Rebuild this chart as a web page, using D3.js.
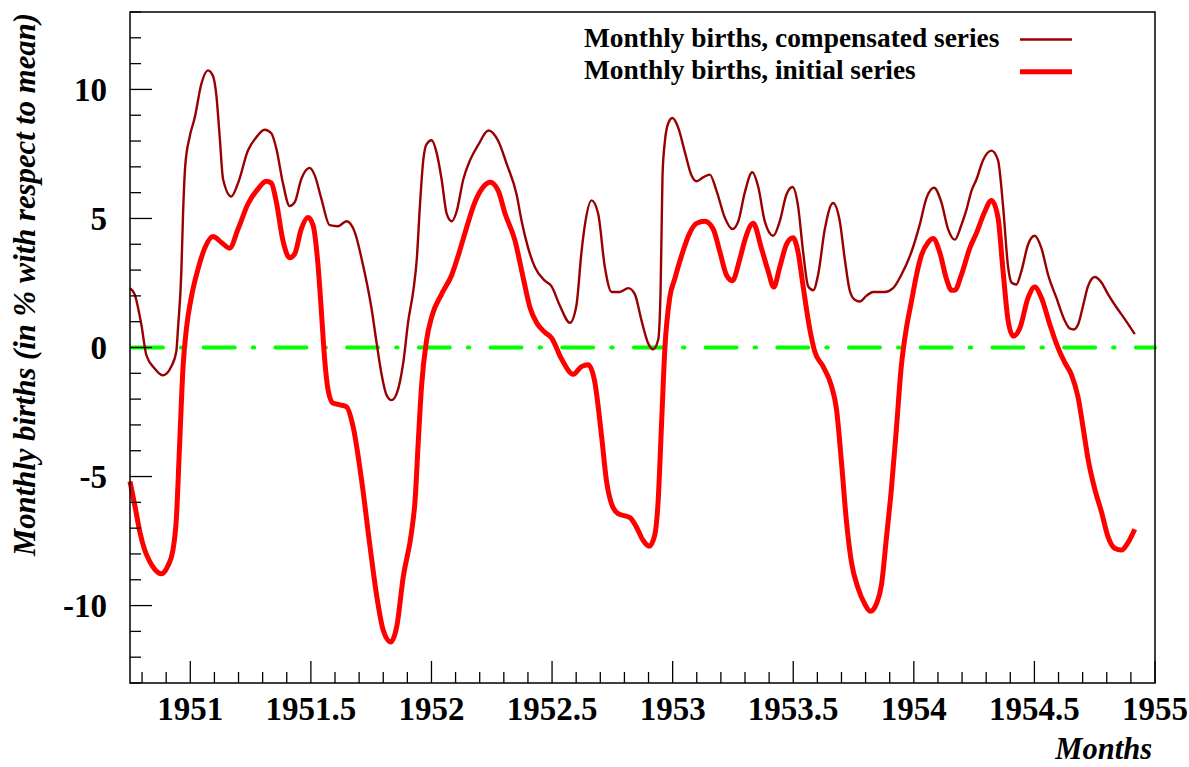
<!DOCTYPE html>
<html lang="en">
<head>
<meta charset="UTF-8">
<title>Monthly births</title>
<script src="https://d3js.org/d3.v7.min.js"></script>
<style>
  body { margin: 0; background: #fff; }
  text { font-family: "Liberation Serif", "Times New Roman", serif; font-weight: bold; }
</style>
</head>
<body>
<script>
// compensated series (year, % w.r.t. mean)
const compYears = [1950.75, 1950.769, 1950.797, 1950.818, 1950.852, 1950.887, 1950.921, 1950.942, 1950.949, 1950.963, 1950.970, 1950.979, 1950.997, 1951.018, 1951.046, 1951.073, 1951.094, 1951.108, 1951.122, 1951.136, 1951.170, 1951.198, 1951.239, 1951.274, 1951.308, 1951.336, 1951.357, 1951.384, 1951.412, 1951.433, 1951.460, 1951.495, 1951.516, 1951.543, 1951.578, 1951.612, 1951.648, 1951.683, 1951.711, 1951.752, 1951.773, 1951.793, 1951.814, 1951.835, 1951.856, 1951.883, 1951.904, 1951.925, 1951.939, 1951.952, 1951.966, 1951.980, 1952.001, 1952.021, 1952.042, 1952.063, 1952.084, 1952.104, 1952.132, 1952.160, 1952.194, 1952.236, 1952.277, 1952.312, 1952.353, 1952.374, 1952.401, 1952.429, 1952.470, 1952.498, 1952.532, 1952.574, 1952.601, 1952.622, 1952.636, 1952.664, 1952.691, 1952.719, 1952.747, 1952.781, 1952.816, 1952.843, 1952.871, 1952.899, 1952.919, 1952.940, 1952.950, 1952.954, 1952.958, 1952.968, 1952.981, 1952.999, 1953.023, 1953.051, 1953.078, 1953.099, 1953.126, 1953.154, 1953.182, 1953.216, 1953.248, 1953.272, 1953.299, 1953.330, 1953.355, 1953.382, 1953.417, 1953.444, 1953.472, 1953.497, 1953.520, 1953.541, 1953.562, 1953.583, 1953.603, 1953.631, 1953.665, 1953.693, 1953.714, 1953.734, 1953.755, 1953.776, 1953.803, 1953.831, 1953.879, 1953.914, 1953.948, 1953.990, 1954.024, 1954.052, 1954.084, 1954.114, 1954.142, 1954.170, 1954.197, 1954.218, 1954.239, 1954.260, 1954.287, 1954.322, 1954.349, 1954.370, 1954.391, 1954.405, 1954.425, 1954.446, 1954.474, 1954.501, 1954.529, 1954.557, 1954.591, 1954.626, 1954.646, 1954.663, 1954.681, 1954.702, 1954.722, 1954.750, 1954.778, 1954.805, 1954.840, 1954.874, 1954.916];
const compValues = [2.30, 2.07, 0.89, -0.30, -0.81, -1.08, -0.74, -0.15, 0.74, 2.96, 5.19, 7.04, 8.15, 8.89, 10.22, 10.74, 10.52, 9.78, 8.15, 6.52, 5.85, 6.37, 7.63, 8.15, 8.44, 8.30, 7.70, 6.37, 5.48, 5.63, 6.52, 6.96, 6.67, 5.78, 4.74, 4.70, 4.89, 4.44, 3.41, 1.48, 0.15, -1.04, -1.85, -2.04, -1.78, -0.59, 1.04, 2.22, 3.41, 5.48, 7.26, 7.88, 8.03, 7.56, 6.52, 5.19, 4.89, 5.26, 6.52, 7.26, 7.85, 8.41, 8.00, 7.11, 5.93, 4.89, 3.85, 3.11, 2.59, 2.37, 1.63, 0.96, 1.63, 3.70, 4.74, 5.70, 5.19, 3.11, 2.15, 2.15, 2.30, 2.07, 1.04, 0.15, -0.07, 0.30, 2.22, 4.44, 6.67, 8.00, 8.67, 8.89, 8.52, 7.56, 6.67, 6.44, 6.59, 6.70, 6.07, 5.04, 4.59, 4.89, 6.00, 6.79, 6.22, 4.89, 4.33, 4.89, 5.93, 6.22, 5.48, 3.70, 2.37, 2.22, 2.81, 4.59, 5.60, 4.89, 3.41, 2.22, 1.85, 1.78, 2.00, 2.15, 2.15, 2.30, 2.81, 3.70, 4.74, 5.78, 6.19, 5.63, 4.59, 4.18, 4.74, 5.33, 6.07, 6.52, 7.26, 7.63, 7.26, 5.48, 3.11, 2.52, 2.44, 2.96, 4.00, 4.33, 3.85, 2.81, 1.93, 1.04, 0.74, 0.70, 0.89, 1.63, 2.37, 2.73, 2.52, 2.07, 1.56, 1.11, 0.52];

// initial series
const initYears = [1950.75, 1950.769, 1950.790, 1950.811, 1950.832, 1950.852, 1950.880, 1950.908, 1950.928, 1950.942, 1950.956, 1950.970, 1950.984, 1951.004, 1951.032, 1951.060, 1951.094, 1951.129, 1951.163, 1951.198, 1951.239, 1951.281, 1951.315, 1951.336, 1951.357, 1951.384, 1951.412, 1951.433, 1951.460, 1951.488, 1951.509, 1951.529, 1951.543, 1951.557, 1951.571, 1951.591, 1951.620, 1951.648, 1951.676, 1951.711, 1951.745, 1951.773, 1951.800, 1951.831, 1951.856, 1951.883, 1951.918, 1951.932, 1951.945, 1951.959, 1951.980, 1952.001, 1952.042, 1952.084, 1952.111, 1952.139, 1952.180, 1952.215, 1952.243, 1952.277, 1952.305, 1952.346, 1952.381, 1952.408, 1952.436, 1952.470, 1952.498, 1952.539, 1952.588, 1952.622, 1952.650, 1952.677, 1952.705, 1952.726, 1952.747, 1952.774, 1952.823, 1952.850, 1952.878, 1952.903, 1952.926, 1952.940, 1952.954, 1952.968, 1952.988, 1953.009, 1953.037, 1953.071, 1953.099, 1953.133, 1953.168, 1953.196, 1953.223, 1953.248, 1953.278, 1953.299, 1953.334, 1953.368, 1953.396, 1953.419, 1953.444, 1953.472, 1953.499, 1953.520, 1953.541, 1953.568, 1953.589, 1953.624, 1953.658, 1953.679, 1953.700, 1953.720, 1953.741, 1953.769, 1953.796, 1953.820, 1953.845, 1953.866, 1953.886, 1953.907, 1953.928, 1953.948, 1953.969, 1953.990, 1954.011, 1954.031, 1954.059, 1954.080, 1954.107, 1954.135, 1954.156, 1954.170, 1954.197, 1954.232, 1954.260, 1954.294, 1954.322, 1954.349, 1954.370, 1954.391, 1954.412, 1954.439, 1954.474, 1954.501, 1954.529, 1954.564, 1954.591, 1954.626, 1954.653, 1954.681, 1954.702, 1954.722, 1954.750, 1954.778, 1954.805, 1954.833, 1954.861, 1954.888, 1954.916];
const initValues = [-5.19, -6.07, -7.11, -7.85, -8.30, -8.59, -8.77, -8.44, -7.85, -6.67, -3.70, -0.74, 0.74, 1.93, 3.04, 3.85, 4.30, 4.07, 3.85, 4.59, 5.56, 6.15, 6.44, 6.37, 5.63, 4.15, 3.48, 3.63, 4.59, 5.04, 4.74, 3.26, 1.48, -0.44, -1.63, -2.15, -2.22, -2.30, -3.11, -5.19, -7.70, -9.63, -10.96, -11.41, -10.81, -8.89, -7.11, -5.93, -3.70, -1.48, 0.30, 1.19, 2.07, 2.81, 3.56, 4.44, 5.63, 6.22, 6.40, 6.07, 5.19, 4.15, 2.67, 1.56, 0.96, 0.59, 0.37, -0.44, -1.04, -0.74, -0.67, -1.33, -3.41, -5.19, -6.07, -6.44, -6.59, -6.96, -7.48, -7.70, -7.26, -5.93, -2.96, 0.00, 1.93, 2.67, 3.56, 4.44, 4.81, 4.89, 4.59, 3.70, 2.81, 2.59, 3.41, 4.15, 4.81, 3.85, 2.96, 2.34, 3.11, 4.00, 4.25, 3.70, 2.37, 0.74, -0.15, -0.74, -1.48, -2.37, -4.44, -6.67, -8.30, -9.33, -9.93, -10.22, -9.93, -9.19, -7.41, -5.48, -3.11, -0.74, 0.74, 1.78, 2.81, 3.56, 4.07, 4.22, 3.70, 2.67, 2.22, 2.22, 2.81, 3.85, 4.44, 5.26, 5.70, 5.04, 2.96, 1.04, 0.44, 0.74, 1.93, 2.34, 1.93, 0.89, 0.15, -0.59, -1.04, -1.93, -3.11, -4.30, -5.48, -6.37, -7.33, -7.78, -7.85, -7.56, -7.04];

const xMajorTicks = [1951, 1951.5, 1952, 1952.5, 1953, 1953.5, 1954, 1954.5, 1955];
const yMajorTicks = [-10, -5, 0, 5, 10];
const seriesNames = ["Monthly births, compensated series", "Monthly births, initial series"];

const width = 1189, height = 767;
const margin = { left: 130, right: 34, top: 12, bottom: 84 };

const svg = d3.select("body").append("svg")
    .attr("width", width)
    .attr("height", height);

const x = d3.scaleLinear()
    .domain([1950.75, 1955])
    .range([margin.left, width - margin.right]);

const y = d3.scaleLinear()
    .domain([-13, 13])
    .range([height - margin.bottom, margin.top]);

const x0 = margin.left, x1 = width - margin.right;
const y0 = height - margin.bottom, y1 = margin.top;

// zero reference line (dash - dot)
svg.append("line")
    .attr("x1", x0 + 2).attr("x2", x1)
    .attr("y1", y(0)).attr("y2", y(0))
    .attr("stroke", "#00ff00")
    .attr("stroke-width", 4)
    .attr("stroke-dasharray", "31,18,1.5,21.2")
    .attr("stroke-linecap", "round");

const line = d3.line()
    .x(d => x(d[0]))
    .y(d => y(d[1]))
    .curve(d3.curveMonotoneX);

const compData = compYears.map((t, i) => [t, compValues[i]]);
const initData = initYears.map((t, i) => [t, initValues[i]]);

svg.append("path")
    .datum(compData)
    .attr("fill", "none")
    .attr("stroke", "#990000")
    .attr("stroke-width", 2.4)
    .attr("d", line);

svg.append("path")
    .datum(initData)
    .attr("fill", "none")
    .attr("stroke", "#ff0000")
    .attr("stroke-width", 5)
    .attr("stroke-linejoin", "round")
    .attr("d", line);

// frame
svg.append("rect")
    .attr("x", x0).attr("y", y1)
    .attr("width", x1 - x0).attr("height", y0 - y1)
    .attr("fill", "none")
    .attr("stroke", "#000")
    .attr("stroke-width", 1.5);

// x axis ticks
const xMinor = d3.range(1950.8, 1955.0001, 0.1).filter(v => !xMajorTicks.some(m => Math.abs(m - v) < 1e-6));
const fmt = d3.format("");
const gx = svg.append("g")
    .attr("transform", `translate(0,${y0})`);
gx.selectAll("line.minor")
    .data(xMinor)
    .join("line")
    .attr("x1", d => x(d)).attr("x2", d => x(d))
    .attr("y1", 0).attr("y2", -11)
    .attr("stroke", "#000").attr("stroke-width", 1.3);
gx.selectAll("line.major")
    .data(xMajorTicks)
    .join("line")
    .attr("x1", d => x(d)).attr("x2", d => x(d))
    .attr("y1", 0).attr("y2", -22)
    .attr("stroke", "#000").attr("stroke-width", 1.3);
gx.selectAll("text")
    .data(xMajorTicks)
    .join("text")
    .attr("x", d => x(d))
    .attr("y", 36.5)
    .attr("text-anchor", "middle")
    .attr("font-size", 33)
    .text(d => fmt(d));

// y axis ticks
const yMinor = d3.range(-13, 14, 1).filter(v => v % 5 !== 0);
const gy = svg.append("g");
gy.selectAll("line.minor")
    .data(yMinor)
    .join("line")
    .attr("x1", x0).attr("x2", x0 + 11)
    .attr("y1", d => y(d)).attr("y2", d => y(d))
    .attr("stroke", "#000").attr("stroke-width", 1.3);
gy.selectAll("line.major")
    .data(yMajorTicks)
    .join("line")
    .attr("x1", x0).attr("x2", x0 + 22)
    .attr("y1", d => y(d)).attr("y2", d => y(d))
    .attr("stroke", "#000").attr("stroke-width", 1.3);
gy.selectAll("text")
    .data(yMajorTicks)
    .join("text")
    .attr("x", 107)
    .attr("y", d => y(d))
    .attr("dy", "0.35em")
    .attr("text-anchor", "end")
    .attr("font-size", 33)
    .text(d => d);

// axis titles
svg.append("text")
    .attr("x", 1152)
    .attr("y", 759)
    .attr("text-anchor", "end")
    .attr("font-size", 30.5)
    .attr("font-style", "italic")
    .text("Months");

svg.append("text")
    .attr("transform", "translate(35,13) rotate(-90)")
    .attr("text-anchor", "end")
    .attr("font-size", 30.7)
    .attr("font-style", "italic")
    .text("Monthly births (in % with respect to mean)");

// legend
const legend = svg.append("g");
const legendStyles = [
    { color: "#990000", width: 2.5 },
    { color: "#ff0000", width: 5 }
];
seriesNames.forEach((name, i) => {
    const ly = 39.5 + i * 32.3;
    legend.append("text")
        .attr("x", 584)
        .attr("y", ly + 7)
        .attr("font-size", 27.4)
        .text(name);
    legend.append("line")
        .attr("x1", 1020).attr("x2", 1072)
        .attr("y1", ly).attr("y2", ly)
        .attr("stroke", legendStyles[i].color)
        .attr("stroke-width", legendStyles[i].width);
});
</script>
</body>
</html>
